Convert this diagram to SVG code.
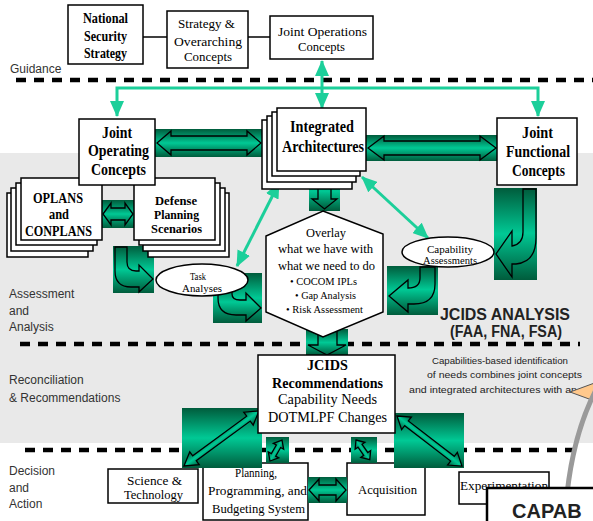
<svg xmlns="http://www.w3.org/2000/svg" width="593" height="521" viewBox="0 0 593 521">
  <defs>
    <linearGradient id="teal" x1="0" y1="0" x2="0" y2="1">
      <stop offset="0" stop-color="#005c3c"/>
      <stop offset="0.5" stop-color="#00c995"/>
      <stop offset="1" stop-color="#005c3c"/>
    </linearGradient>
    <marker id="head" markerUnits="userSpaceOnUse" viewBox="0 0 16 14" markerWidth="16" markerHeight="14" refX="15" refY="7" orient="auto-start-reverse">
      <path d="M0,0 L16,7 L0,14 Z" fill="#1ccf9a"/>
    </marker>
    <style>
      .bg { fill: #e9e9e9; }
      .dash { stroke: #000; stroke-width: 4.5; stroke-dasharray: 10 8; fill: none; }
      .lbl { font-family: "Liberation Sans", Arial, sans-serif; font-size: 12px; fill: #333; }
      .box { fill: #fff; stroke: #000; stroke-width: 1.5; }
      .sv { font-family: "Liberation Serif", "Times New Roman", serif; fill: #000; }
      .b { font-weight: bold; }
      .link { stroke: #000; stroke-width: 1.5; fill: none; }
      .tl { stroke: #1ccf9a; stroke-width: 3; fill: none; marker-start: url(#head); marker-end: url(#head); }
      .blk { fill: url(#teal); }
      .arr { fill: url(#teal); stroke: #000; stroke-width: 1.3; stroke-linejoin: miter; }
      .note { font-family: "Liberation Sans", Arial, sans-serif; font-size: 9.5px; fill: #222; }
      .big { font-family: "Liberation Sans", Arial, sans-serif; font-weight: bold; fill: #222; }
    </style>
  </defs>

  <!-- shaded assessment / reconciliation band -->
  <rect class="bg" x="0" y="153" width="593" height="290"/>

  <!-- phase separators -->
  <line class="dash" x1="16" y1="80" x2="593" y2="80"/>
  <line class="dash" x1="20" y1="344" x2="580" y2="344"/>
  <line class="dash" x1="25" y1="450" x2="578" y2="450"/>

  <!-- phase labels -->
  <g id="phase-labels">
    <text class="lbl" x="10" y="73">Guidance</text>
    <text class="lbl" x="9" y="298">Assessment</text>
    <text class="lbl" x="9" y="315">and</text>
    <text class="lbl" x="9" y="331">Analysis</text>
    <text class="lbl" x="9" y="384">Reconciliation</text>
    <text class="lbl" x="9" y="402">&amp; Recommendations</text>
    <text class="lbl" x="9" y="475">Decision</text>
    <text class="lbl" x="9" y="492">and</text>
    <text class="lbl" x="9" y="508">Action</text>
  </g>

  <!-- connectors -->
  <g id="connectors">
    <line class="link" x1="143" y1="37" x2="167" y2="37"/>
    <line class="link" x1="248" y1="37" x2="270" y2="37"/>
    <path class="tl" d="M117,116 V88 H538 V116"/>
    <line class="tl" x1="322" y1="61" x2="322" y2="108"/>
    <line class="tl" x1="279" y1="183" x2="237" y2="266"/>
    <line class="tl" x1="362" y1="177" x2="428" y2="238"/>

    <!-- JOC <-> Integrated Architectures -->
    <rect class="blk" x="155" y="129" width="108" height="28"/>
    <polygon class="arr" points="157,143 171,131 171,136 247,136 247,131 261,143 247,155 247,150 171,150 171,155"/>
    <!-- Integrated Architectures <-> JFC -->
    <rect class="blk" x="366" y="135" width="132" height="26"/>
    <polygon class="arr" points="368,148 384,136 384,141 480,141 480,136 496,148 480,160 480,155 384,155 384,160"/>
    <!-- OPLANS <-> Defense Planning Scenarios -->
    <rect class="blk" x="102" y="200" width="32" height="28"/>
    <polygon class="arr" points="103,214 111,203 111,208 125,208 125,203 133,214 125,225 125,220 111,220 111,225"/>
    <!-- Integrated Architectures <-> Overlay -->
    <rect class="blk" x="309" y="171" width="31" height="40"/>
    <polygon class="arr" points="324.5,173 337,184 331,184 331,199 337,199 324.5,209 312,199 318,199 318,184 312,184"/>
    <!-- Overlay -> JCIDS Recommendations -->
    <rect class="blk" x="306" y="329" width="42" height="26"/>
    <polygon class="arr" points="318,330 318,345 308,345 327,355 346,345 337,345 337,330"/>

    <!-- bent arrows -->
    <rect class="blk" x="113" y="246" width="41" height="47"/>
    <path class="arr" d="M115,247 L127,247 L127,262 Q127,271 136,271 L139,271 L139,265 L153,279 L139,292 L139,287 L131,287 Q115,287 115,271 Z"/>
    <rect class="blk" x="213" y="273" width="49" height="50"/>
    <path class="arr" d="M218,283 L232,283 L232,294 Q232,300 240,300 L246,300 L246,293 L261,308 L246,321 L246,315 L236,315 Q218,315 218,298 Z"/>
    <rect class="blk" x="494" y="188" width="43" height="92"/>
    <path class="arr" d="M523,189 L536,189 L536,238 Q536,262 516,264 L512,264 L512,277 L496,254 L512,231 L512,246 Q523,244 523,232 Z"/>
    <rect class="blk" x="387" y="266" width="51" height="49"/>
    <path class="arr" d="M420,267 L435,267 L435,284 Q435,304 414,304 L408,304 L408,312 L389,296 L408,280 L408,288 Q420,288 420,278 Z"/>
  </g>

  <!-- guidance row -->
  <g id="national-security-strategy">
    <rect class="box" x="68" y="5" width="75" height="59"/>
    <text class="sv b" font-size="14" x="83" y="23" textLength="45" lengthAdjust="spacingAndGlyphs">National</text>
    <text class="sv b" font-size="14" x="84" y="41" textLength="43" lengthAdjust="spacingAndGlyphs">Security</text>
    <text class="sv b" font-size="14" x="84" y="58" textLength="43" lengthAdjust="spacingAndGlyphs">Strategy</text>
  </g>
  <g id="strategy-overarching">
    <rect class="box" x="167" y="11" width="81" height="57"/>
    <text class="sv" font-size="13.5" x="178" y="28" textLength="57" lengthAdjust="spacingAndGlyphs">Strategy &amp;</text>
    <text class="sv" font-size="13.5" x="174" y="46" textLength="68" lengthAdjust="spacingAndGlyphs">Overarching</text>
    <text class="sv" font-size="13.5" x="184" y="61" textLength="48" lengthAdjust="spacingAndGlyphs">Concepts</text>
  </g>
  <g id="joint-operations-concepts">
    <rect class="box" x="270" y="16" width="103" height="43"/>
    <text class="sv" font-size="12.5" x="278" y="36" textLength="89" lengthAdjust="spacingAndGlyphs">Joint Operations</text>
    <text class="sv" font-size="12.5" x="298" y="51" textLength="47" lengthAdjust="spacingAndGlyphs">Concepts</text>
  </g>

  <!-- assessment row -->
  <g id="oplans-conplans">
    <rect class="box" x="7" y="193" width="81" height="64"/>
    <rect class="box" x="11" y="188" width="82" height="63"/>
    <rect class="box" x="16" y="183" width="81" height="62"/>
    <rect class="box" x="21" y="178" width="81" height="62"/>
    <text class="sv b" font-size="14" x="33" y="203" textLength="50" lengthAdjust="spacingAndGlyphs">OPLANS</text>
    <text class="sv b" font-size="14" x="49" y="219" textLength="20" lengthAdjust="spacingAndGlyphs">and</text>
    <text class="sv b" font-size="14" x="25" y="236" textLength="67" lengthAdjust="spacingAndGlyphs">CONPLANS</text>
  </g>
  <g id="defense-planning-scenarios">
    <rect class="box" x="148" y="193" width="81" height="64"/>
    <rect class="box" x="143" y="188" width="82" height="63"/>
    <rect class="box" x="139" y="183" width="81" height="62"/>
    <rect class="box" x="134" y="178" width="81" height="62"/>
    <text class="sv b" font-size="13.5" x="155" y="205" textLength="42" lengthAdjust="spacingAndGlyphs">Defense</text>
    <text class="sv b" font-size="13.5" x="154" y="219" textLength="45" lengthAdjust="spacingAndGlyphs">Planning</text>
    <text class="sv b" font-size="13.5" x="151" y="233" textLength="51" lengthAdjust="spacingAndGlyphs">Scenarios</text>
  </g>
  <g id="joint-operating-concepts">
    <rect class="box" x="79" y="119" width="76" height="66"/>
    <text class="sv b" font-size="16" x="102" y="138" textLength="30" lengthAdjust="spacingAndGlyphs">Joint</text>
    <text class="sv b" font-size="16" x="88" y="156" textLength="61" lengthAdjust="spacingAndGlyphs">Operating</text>
    <text class="sv b" font-size="16" x="91" y="175" textLength="55" lengthAdjust="spacingAndGlyphs">Concepts</text>
  </g>
  <g id="integrated-architectures">
    <rect class="box" x="262" y="120" width="90" height="69"/>
    <rect class="box" x="267" y="116" width="89" height="66"/>
    <rect class="box" x="272" y="112" width="88" height="64"/>
    <rect class="box" x="277" y="108" width="89" height="63"/>
    <text class="sv b" font-size="16" x="290" y="132" textLength="64" lengthAdjust="spacingAndGlyphs">Integrated</text>
    <text class="sv b" font-size="16" x="282" y="152" textLength="82" lengthAdjust="spacingAndGlyphs">Architectures</text>
  </g>
  <g id="joint-functional-concepts">
    <rect class="box" x="497" y="118" width="80" height="67"/>
    <text class="sv b" font-size="16" x="522" y="138" textLength="31" lengthAdjust="spacingAndGlyphs">Joint</text>
    <text class="sv b" font-size="16" x="506" y="157" textLength="64" lengthAdjust="spacingAndGlyphs">Functional</text>
    <text class="sv b" font-size="16" x="512" y="176" textLength="53" lengthAdjust="spacingAndGlyphs">Concepts</text>
  </g>
  <g id="task-analyses">
    <ellipse class="box" cx="202" cy="280" rx="46" ry="16"/>
    <text class="sv" font-size="10" x="190" y="280" textLength="16" lengthAdjust="spacingAndGlyphs">Task</text>
    <text class="sv" font-size="10" x="182" y="292" textLength="40" lengthAdjust="spacingAndGlyphs">Analyses</text>
  </g>
  <g id="capability-assessments">
    <ellipse class="box" cx="448" cy="252" rx="46" ry="15"/>
    <text class="sv" font-size="9.5" x="427" y="253" textLength="46" lengthAdjust="spacingAndGlyphs">Capability</text>
    <text class="sv" font-size="9.5" x="423" y="264" textLength="54" lengthAdjust="spacingAndGlyphs">Assessments</text>
  </g>
  <g id="overlay">
    <polygon class="box" points="323,211 383,234 383,312 323,337 266,312 266,236"/>
    <text class="sv" font-size="13" x="306" y="237" textLength="40" lengthAdjust="spacingAndGlyphs">Overlay</text>
    <text class="sv" font-size="13" x="278" y="253" textLength="95" lengthAdjust="spacingAndGlyphs">what we have with</text>
    <text class="sv" font-size="13" x="278" y="270" textLength="97" lengthAdjust="spacingAndGlyphs">what we need to do</text>
    <text class="sv" font-size="10.5" fill="#333" x="290" y="285" textLength="67" lengthAdjust="spacingAndGlyphs">• COCOM IPLs</text>
    <text class="sv" font-size="10.5" fill="#333" x="295" y="299" textLength="61" lengthAdjust="spacingAndGlyphs">• Gap Analysis</text>
    <text class="sv" font-size="10.5" fill="#333" x="286" y="313" textLength="77" lengthAdjust="spacingAndGlyphs">• Risk Assessment</text>
  </g>

  <g id="jcids-analysis-label">
    <text class="big" font-size="16" x="440" y="320" textLength="130" lengthAdjust="spacingAndGlyphs">JCIDS ANALYSIS</text>
    <text class="big" font-size="16" x="450" y="337" textLength="112" lengthAdjust="spacingAndGlyphs">(FAA, FNA, FSA)</text>
  </g>

  <g id="capabilities-note">
    <text class="note" x="432" y="364" textLength="136" lengthAdjust="spacingAndGlyphs">Capabilities-based identification</text>
    <text class="note" x="427" y="378" textLength="155" lengthAdjust="spacingAndGlyphs">of needs combines joint concepts</text>
    <text class="note" x="409" y="393" textLength="168" lengthAdjust="spacingAndGlyphs">and integrated architectures with an</text>
  </g>

  <!-- decision row -->
  <g id="science-technology">
    <rect class="box" x="108" y="469" width="90" height="34"/>
    <text class="sv" font-size="13" x="127" y="485" textLength="55" lengthAdjust="spacingAndGlyphs">Science &amp;</text>
    <text class="sv" font-size="13" x="124" y="499" textLength="59" lengthAdjust="spacingAndGlyphs">Technology</text>
  </g>
  <g id="ppbs">
    <rect class="box" x="203" y="463" width="105" height="57"/>
    <text class="sv" font-size="13" x="235" y="477" textLength="42" lengthAdjust="spacingAndGlyphs">Planning,</text>
    <text class="sv" font-size="13" x="208" y="495" textLength="99" lengthAdjust="spacingAndGlyphs">Programming, and</text>
    <text class="sv" font-size="13" x="212" y="513" textLength="93" lengthAdjust="spacingAndGlyphs">Budgeting System</text>
  </g>
  <g id="acquisition">
    <rect class="box" x="347" y="463" width="78" height="52"/>
    <text class="sv" font-size="13" x="358" y="494" textLength="59" lengthAdjust="spacingAndGlyphs">Acquisition</text>
  </g>
  <g id="experimentation">
    <rect class="box" x="459" y="472" width="90" height="32"/>
    <text class="sv" font-size="12.5" x="460" y="490" textLength="88" lengthAdjust="spacingAndGlyphs">Experimentation</text>
  </g>

  <!-- block arrows between recommendations and decision row -->
  <g id="decision-arrows">
    <rect class="blk" x="182" y="408" width="80" height="60"/>
    <polygon class="arr" points="0,0 13,-8 13,-3 80,-3 80,-8 93,0 80,8 80,3 13,3 13,8" transform="translate(184,466) rotate(-36.3)"/>
    <rect class="blk" x="394" y="413" width="70" height="55"/>
    <polygon class="arr" points="0,0 12,-8 12,-3 70,-3 70,-8 82,0 70,8 70,3 12,3 12,8" transform="translate(397,416) rotate(37.6)"/>
    <rect class="blk" x="266" y="437" width="23" height="26"/>
    <polygon class="arr" points="0,0 7,-6 7,-2.5 17,-2.5 17,-6 24,0 17,6 17,2.5 7,2.5 7,6" transform="translate(270,461) rotate(-60)"/>
    <rect class="blk" x="351" y="437" width="26" height="26"/>
    <polygon class="arr" points="0,0 7,-6 7,-2.5 17,-2.5 17,-6 24,0 17,6 17,2.5 7,2.5 7,6" transform="translate(356,440) rotate(55)"/>
    <rect class="blk" x="308" y="477" width="39" height="26"/>
    <polygon class="arr" points="309,490 319,479 319,485 336,485 336,479 346,490 336,501 336,495 319,495 319,501"/>
  </g>

  <g id="jcids-recommendations">
    <rect class="box" x="258" y="355" width="137" height="78"/>
    <text class="sv b" font-size="15.5" x="307" y="370" textLength="41" lengthAdjust="spacingAndGlyphs">JCIDS</text>
    <text class="sv b" font-size="15" x="272" y="388" textLength="111" lengthAdjust="spacingAndGlyphs">Recommendations</text>
    <text class="sv" font-size="15" x="278" y="404" textLength="99" lengthAdjust="spacingAndGlyphs">Capability Needs</text>
    <text class="sv" font-size="15" x="268" y="422" textLength="119" lengthAdjust="spacingAndGlyphs">DOTMLPF Changes</text>
  </g>

  <!-- callout pointer and arc -->
  <polygon points="570,392 600,381 600,403" fill="#ffc88c" stroke="#555" stroke-width="1"/>
  <path d="M598,386 Q574,430 567,494" fill="none" stroke="#9a9a9a" stroke-width="5"/>

  <g id="capab">
    <rect x="487" y="488" width="120" height="50" fill="#fff" stroke="#000" stroke-width="2.5"/>
    <text class="big" font-size="20" fill="#000" x="512" y="518">CAPAB</text>
  </g>
</svg>
